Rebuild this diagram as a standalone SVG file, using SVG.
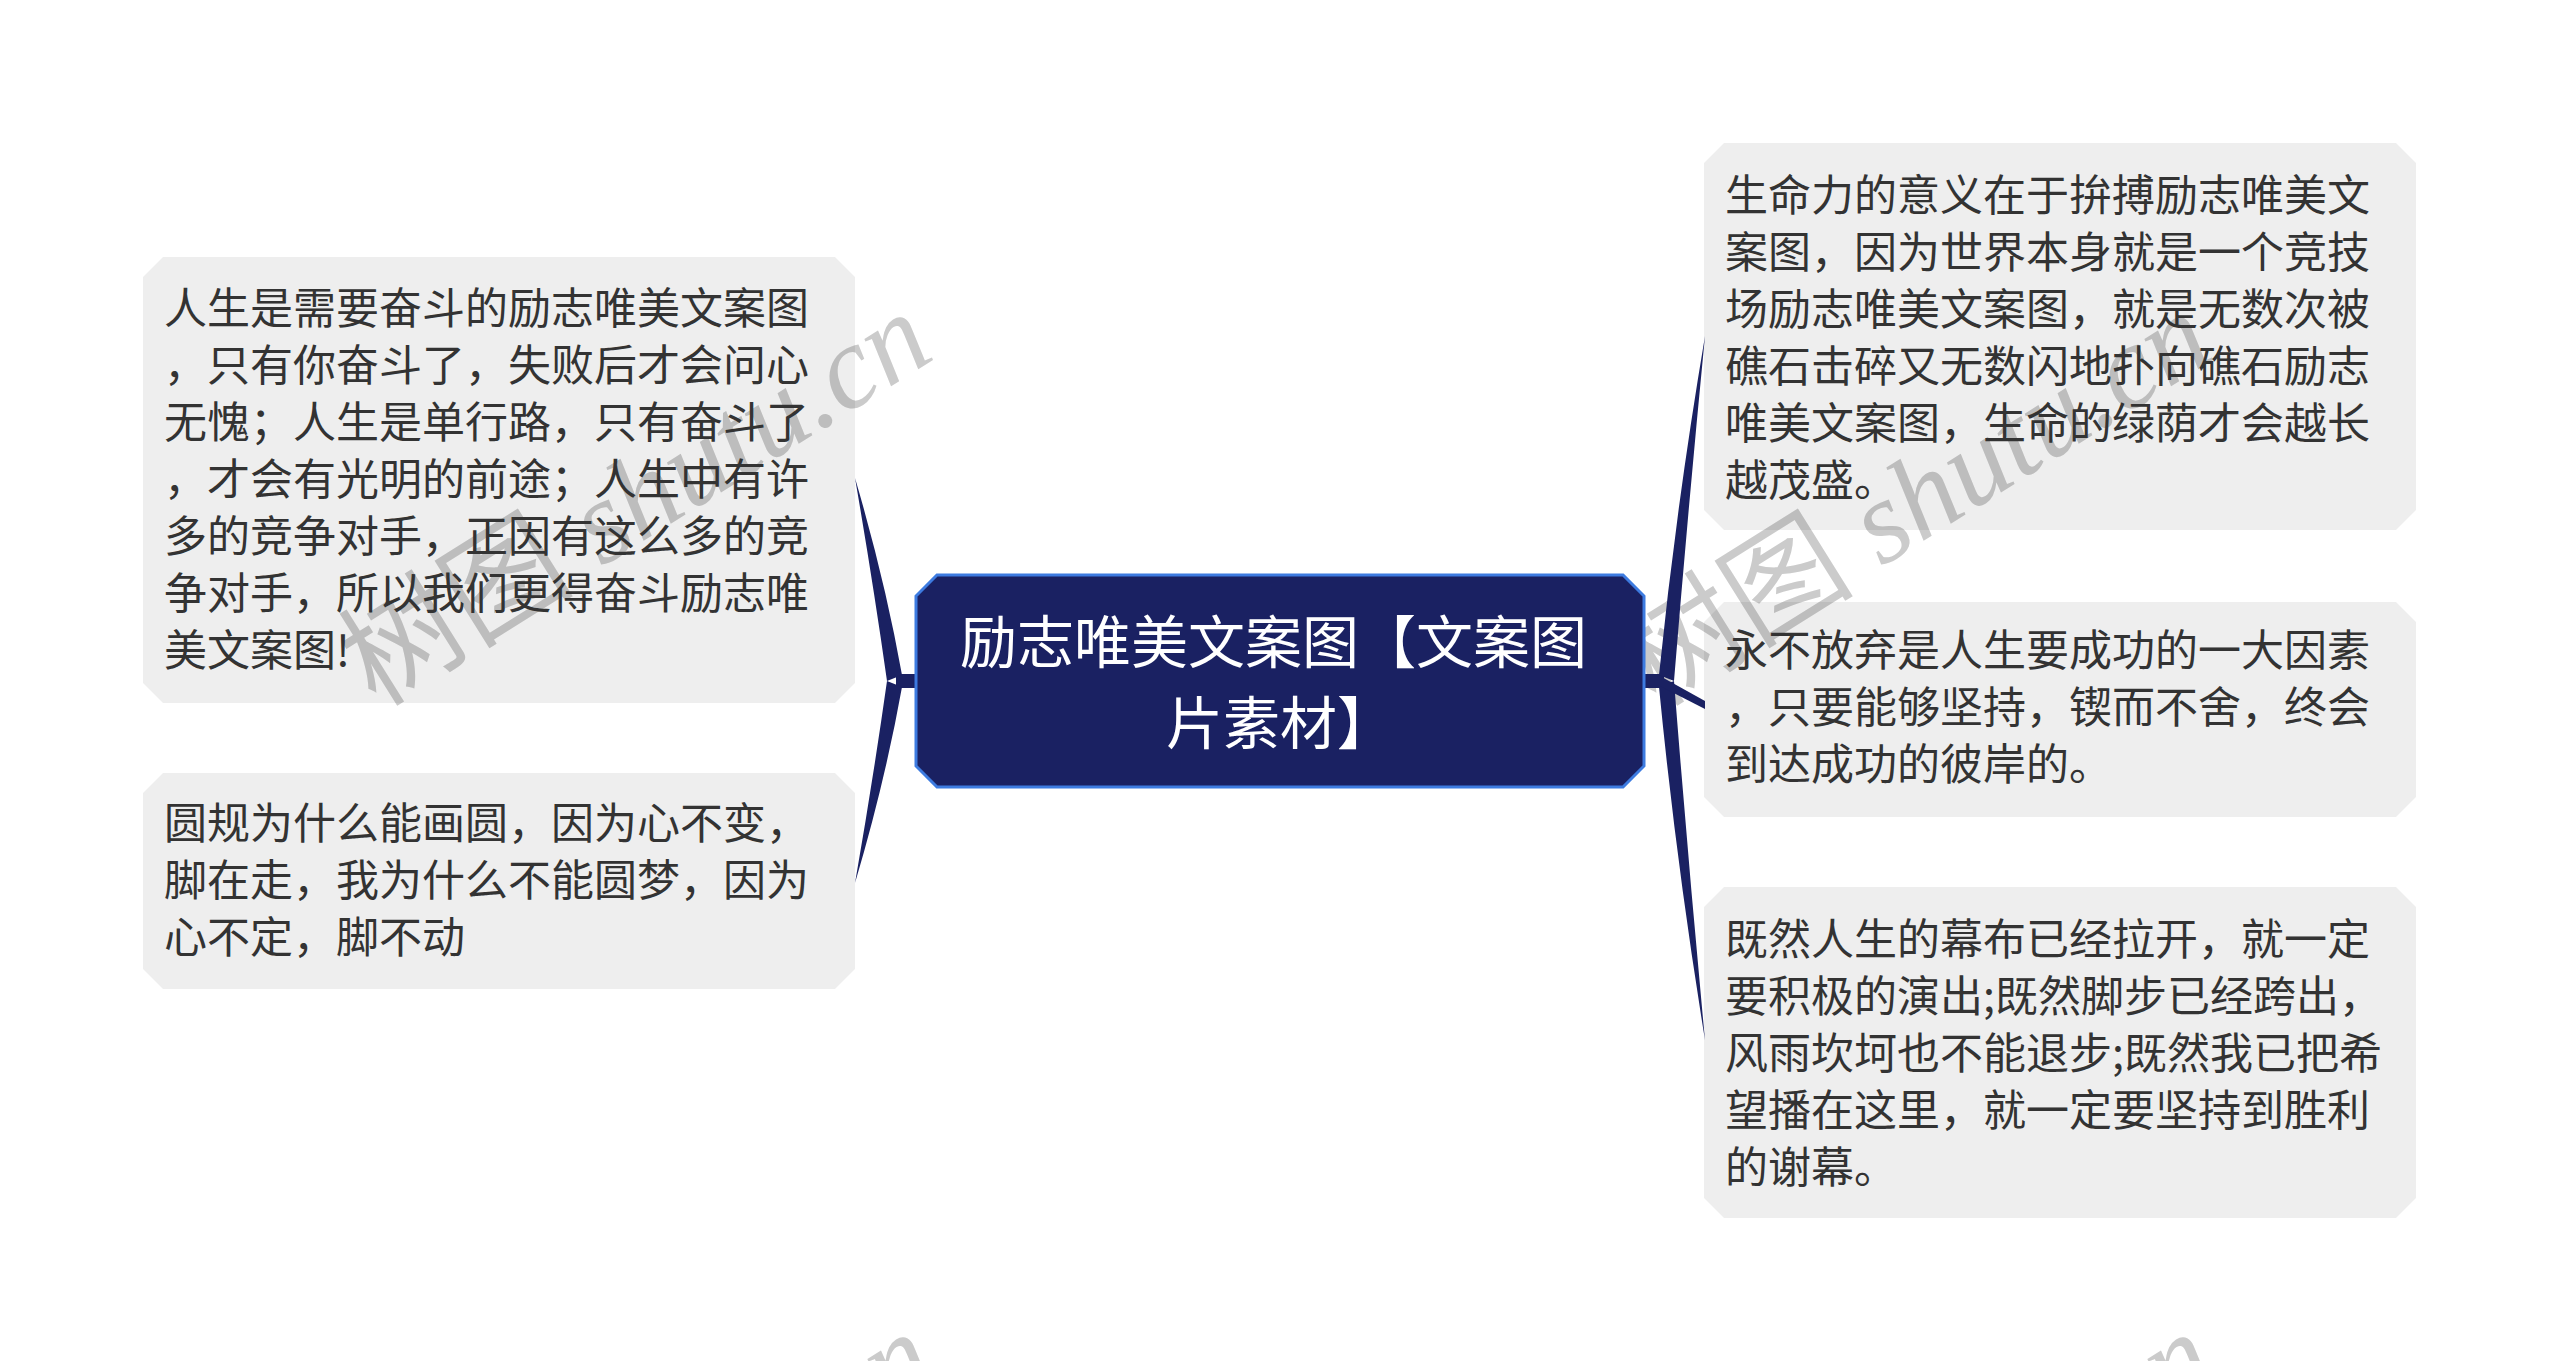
<svg xmlns="http://www.w3.org/2000/svg" width="2560" height="1361" viewBox="0 0 2560 1361">
  <style>
    .bg { fill: #ffffff; }
    .wm { font-family: "Liberation Serif", "Noto Sans CJK SC", serif; font-size: 118px; fill: #cbcbcb; }
    .wm .lat { font-style: italic; }
    .leaf { fill: #000000; fill-opacity: 0.066; }
    .leaf-text { font-family: "Noto Sans CJK SC", "Liberation Sans", sans-serif; font-size: 43px; fill: #333333; }
    .root-shape { fill: #1a2162; stroke: #3d7be0; stroke-width: 3; }
    .root-text { font-family: "Noto Sans CJK SC", "Liberation Sans", sans-serif; font-size: 57px; fill: #ffffff; text-anchor: middle; }
    .conn { fill: #1a2162; stroke: none; }
  </style>
  <rect class="bg" x="0" y="0" width="2560" height="1361"/>

  <g id="watermarks">
    <text class="wm" x="376" y="708" transform="rotate(-32 376 708)">树图 <tspan class="lat">shutu.cn</tspan></text>
    <text class="wm" x="1656" y="708" transform="rotate(-32 1656 708)">树图 <tspan class="lat">shutu.cn</tspan></text>
    <text class="wm" x="379" y="1728" transform="rotate(-32 379 1728)">树图 <tspan class="lat">shutu.cn</tspan></text>
    <text class="wm" x="1659" y="1728" transform="rotate(-32 1659 1728)">树图 <tspan class="lat">shutu.cn</tspan></text>
  </g>

  <g id="node-left-1">
    <path class="leaf" d="M163,257 H835 L855,277 V683 L835,703 H163 L143,683 V277 Z"/>
    <text class="leaf-text">
      <tspan x="164" y="324">人生是需要奋斗的励志唯美文案图</tspan>
      <tspan x="164" y="381">，只有你奋斗了，失败后才会问心</tspan>
      <tspan x="164" y="438">无愧；人生是单行路，只有奋斗了</tspan>
      <tspan x="164" y="495">，才会有光明的前途；人生中有许</tspan>
      <tspan x="164" y="552">多的竞争对手，正因有这么多的竞</tspan>
      <tspan x="164" y="609">争对手，所以我们更得奋斗励志唯</tspan>
      <tspan x="164" y="666">美文案图!</tspan>
    </text>
  </g>

  <g id="node-left-2">
    <path class="leaf" d="M163,773 H835 L855,793 V969 L835,989 H163 L143,969 V793 Z"/>
    <text class="leaf-text">
      <tspan x="164" y="839">圆规为什么能画圆，因为心不变，</tspan>
      <tspan x="164" y="896">脚在走，我为什么不能圆梦，因为</tspan>
      <tspan x="164" y="953">心不定，脚不动</tspan>
    </text>
  </g>

  <g id="node-right-1">
    <path class="leaf" d="M1724,143 H2396 L2416,163 V510 L2396,530 H1724 L1704,510 V163 Z"/>
    <text class="leaf-text">
      <tspan x="1725" y="211">生命力的意义在于拚搏励志唯美文</tspan>
      <tspan x="1725" y="268">案图，因为世界本身就是一个竞技</tspan>
      <tspan x="1725" y="325">场励志唯美文案图，就是无数次被</tspan>
      <tspan x="1725" y="382">礁石击碎又无数闪地扑向礁石励志</tspan>
      <tspan x="1725" y="439">唯美文案图，生命的绿荫才会越长</tspan>
      <tspan x="1725" y="496">越茂盛。</tspan>
    </text>
  </g>

  <g id="node-right-2">
    <path class="leaf" d="M1724,602 H2396 L2416,622 V797 L2396,817 H1724 L1704,797 V622 Z"/>
    <text class="leaf-text">
      <tspan x="1725" y="666">永不放弃是人生要成功的一大因素</tspan>
      <tspan x="1725" y="723">，只要能够坚持，锲而不舍，终会</tspan>
      <tspan x="1725" y="780">到达成功的彼岸的。</tspan>
    </text>
  </g>

  <g id="node-right-3">
    <path class="leaf" d="M1724,887 H2396 L2416,907 V1198 L2396,1218 H1724 L1704,1198 V907 Z"/>
    <text class="leaf-text">
      <tspan x="1725" y="955">既然人生的幕布已经拉开，就一定</tspan>
      <tspan x="1725" y="1012">要积极的演出;既然脚步已经跨出，</tspan>
      <tspan x="1725" y="1069">风雨坎坷也不能退步;既然我已把希</tspan>
      <tspan x="1725" y="1126">望播在这里，就一定要坚持到胜利</tspan>
      <tspan x="1725" y="1183">的谢幕。</tspan>
    </text>
  </g>

  <g id="connectors">
    <rect class="conn" x="896" y="674" width="24" height="14"/>
    <path class="conn" d="M887,681 Q873,582 855,478 Q885,580 902,675 Z"/>
    <path class="conn" d="M887,681 Q873,780 855,883 Q885,782 902,687 Z"/>
    <rect class="conn" x="1640" y="674" width="24" height="14"/>
    <path class="conn" d="M1674,681 Q1688,510 1705,336 Q1676,508 1659,675 Z"/>
    <path class="conn" d="M1674,681 Q1688,860 1705,1040 Q1676,862 1659,687 Z"/>
    <path class="conn" d="M1660,676 L1705,701 L1705,709 L1660,686 Z"/>
  </g>

  <g id="node-root">
    <path class="root-shape" d="M937,575 H1623 L1644,596 V766 L1623,787 H937 L916,766 V596 Z"/>
    <text class="root-text">
      <tspan x="1280" y="663">励志唯美文案图【文案图</tspan>
      <tspan x="1280" y="744">片素材】</tspan>
    </text>
  </g>
</svg>
